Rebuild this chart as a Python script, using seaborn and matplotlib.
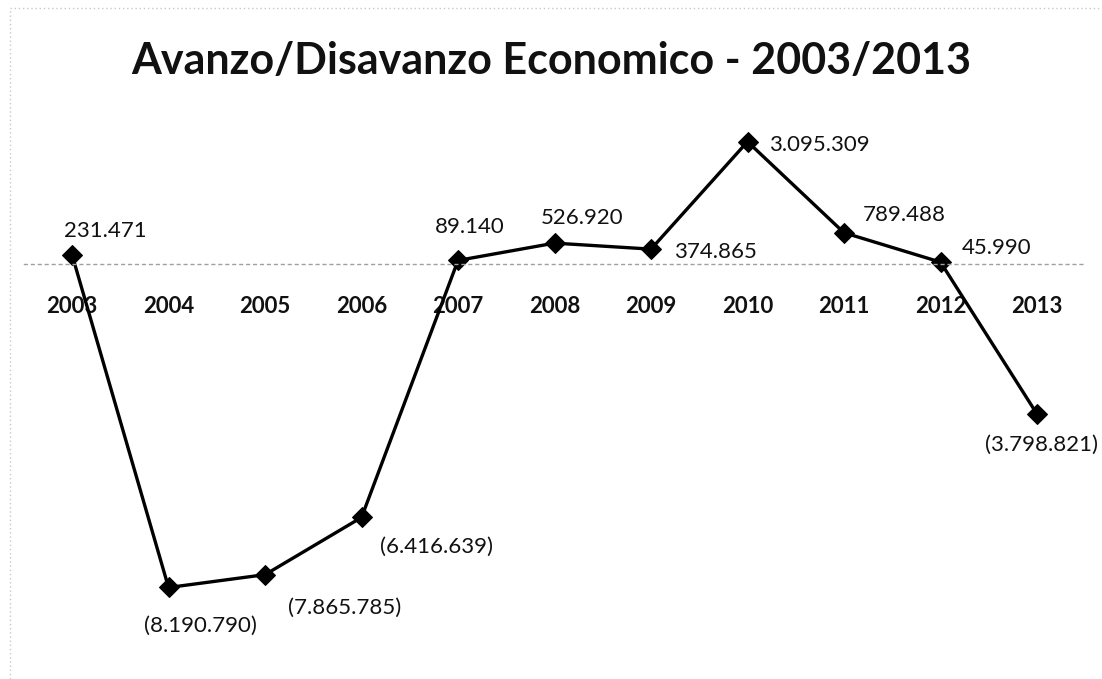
import numpy as np
import pandas as pd
import matplotlib
matplotlib.use("Agg")
import matplotlib.pyplot as plt
import seaborn as sns
from matplotlib.ticker import FixedLocator

# dati
anni = ['2003', '2004', '2005', '2006', '2007', '2008', '2009', '2010', '2011', '2012', '2013']
valori = [231471, -8190790, -7865785, -6416639, 89140, 526920, 374865, 3095309, 789488, 45990, -3798821]

# posizione delle etichette (pixel rispetto al punto)
offset_etichette = [(33, 24), (32, -38), (80, -33), (75, -29), (12, 33), (28, 25),
                    (64, -3), (72, -3), (60, 18), (56, 14), (4, -31)]

df = pd.DataFrame({'anno': anni, 'valore': valori})

sns.set_style("white")
plt.rcParams['font.family'] = ['Lato', 'DejaVu Sans']

fig = plt.figure(figsize=(11.02, 6.79), dpi=100)
ax = fig.add_axes([0.0216, 0.0295, 0.9632, 0.8145])

sns.lineplot(data=df, x='anno', y='valore', ax=ax, color='black', linewidth=2.4,
             marker='D', markersize=10, markeredgecolor='black', sort=False)

ax.set_xlim(-0.5, 10.5)
ax.set_ylim(-10_000_000, 4_000_000)


def formatta(v):
    s = f"{abs(v):,}".replace(",", ".")
    return f"({s})" if v < 0 else s


for i, v in enumerate(valori):
    dx, dy = offset_etichette[i]
    ax.annotate(formatta(v), (i, v), xytext=(dx, dy), textcoords='offset pixels',
                ha='center', va='center', fontsize=16, color='#111111')

# asse orizzontale sullo zero
for s in ['left', 'right', 'top']:
    ax.spines[s].set_visible(False)
ax.spines['bottom'].set_position(('data', 0))
ax.spines['bottom'].set_color('#a0a0a0')
ax.spines['bottom'].set_linestyle((0, (2, 3)))
ax.spines['bottom'].set_linewidth(1)

ax.set_yticks([])
ax.set_xticks(range(len(anni)))
ax.set_xticklabels(anni, fontsize=16, fontweight='bold', color='#111111')
ax.xaxis.set_minor_locator(FixedLocator(np.arange(-0.5, 11, 1)))
ax.tick_params(axis='x', which='major', length=0, pad=23)
ax.tick_params(axis='x', which='minor', length=4, color='#a0a0a0', direction='out')
ax.set_xlabel('')
ax.set_ylabel('')

fig.text(0.5, 0.91, 'Avanzo/Disavanzo Economico - 2003/2013', ha='center', va='center',
         fontsize=31, fontweight='bold', color='#111111')

# bordo del grafico
fig.patches.append(plt.Rectangle((0.009, -0.01), 1.0, 0.998, transform=fig.transFigure,
                                 fill=False, edgecolor='#c8c8c8', linewidth=1,
                                 linestyle=(0, (1, 2))))

fig.savefig('out.png', dpi=100)
